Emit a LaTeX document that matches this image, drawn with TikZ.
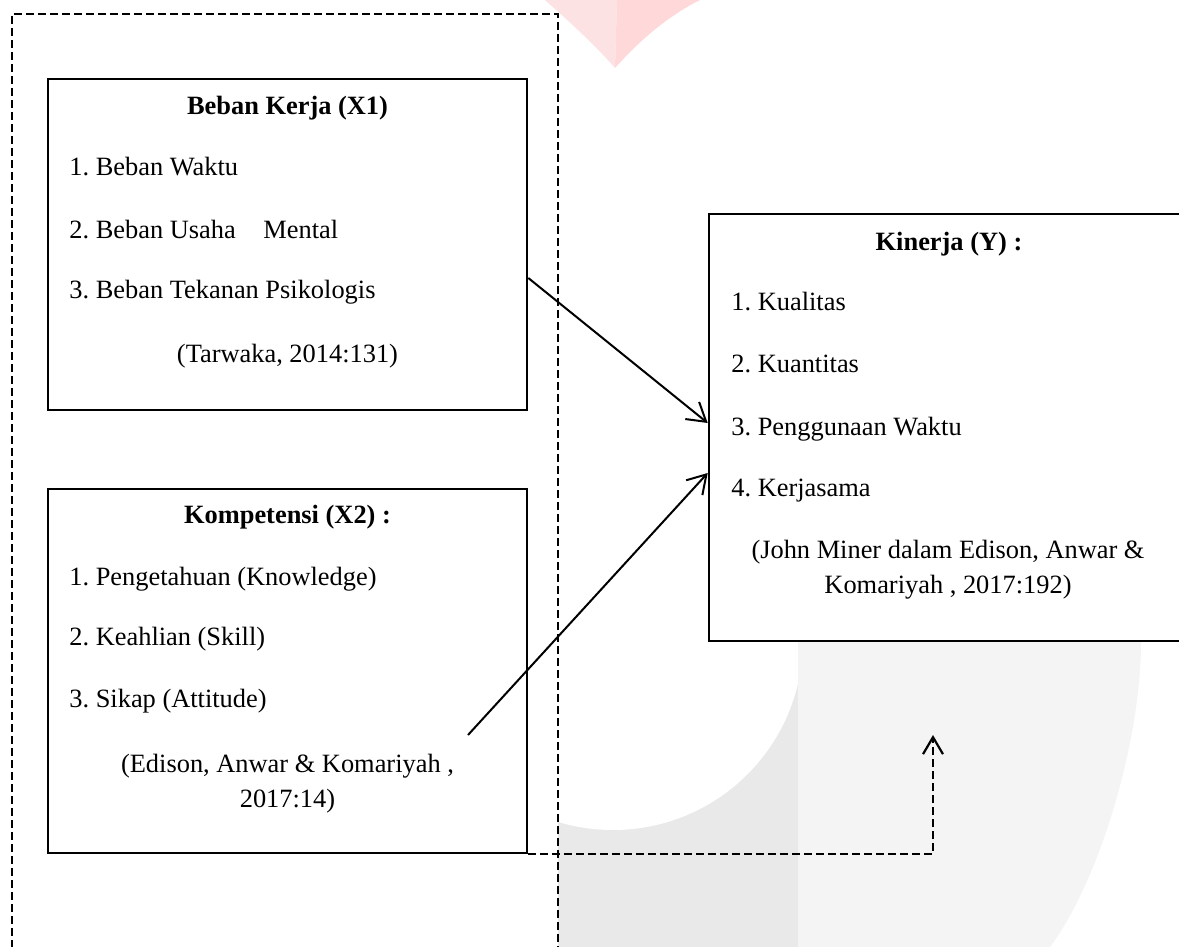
\documentclass[tikz,border=0pt]{standalone}
\usepackage{fontspec}
\setmainfont{Liberation Serif}
\usetikzlibrary{arrows.meta,calc}
\definecolor{pinkA}{RGB}{253,226,227}
\definecolor{pinkB}{RGB}{255,216,218}
\definecolor{greyA}{RGB}{233,233,233}
\definecolor{greyB}{RGB}{244,244,244}
\frenchspacing
\begin{document}
\begin{tikzpicture}[x=0.5pt,y=-0.5pt,
  box/.style={draw,line width=1.3pt,fill=white,inner sep=0pt},
  txt/.style={anchor=base west,inner sep=0pt,font=\fontsize{13.2}{16}\selectfont},
  ttl/.style={anchor=base,inner sep=0pt,font=\fontsize{13.2}{16}\selectfont\bfseries},
  cite/.style={anchor=base,inner sep=0pt,font=\fontsize{13.2}{16}\selectfont},
  arr/.style={line width=1pt,-{Straight Barb[length=9pt,width=11pt]}},
  darr/.style={line width=1.1pt,dash pattern=on 4pt off 2pt,-{Straight Barb[length=8.5pt,width=10pt]}},
  outerframe/.style={line width=1.1pt,dash pattern=on 4pt off 2pt}]
\useasboundingbox (0,0) rectangle (1179,947);
\clip (0,0) rectangle (1179,947);
\fill[white] (0,0) rectangle (1179,947);
% watermark
\fill[pinkA] (545,0) .. controls (572,24) and (596,46) .. (615,68) -- (617,0) -- cycle;
\fill[pinkB] (617,0) -- (615,68) .. controls (640,40) and (668,16) .. (700,0) -- cycle;
\fill[greyA] (558,600) rectangle (798,947);
\fill[white] (613,640) circle[radius=190];
\fill[greyB] (798,642) -- (1141,642) .. controls (1141,740) and (1100,880) .. (1050,947) -- (798,947) -- cycle;
% outer dashed frame
\draw[outerframe] (12,960) -- (12,14) -- (558,14) -- (558,960);
% boxes
\node[box,minimum width=239.5pt,minimum height=165.5pt] (x1) at (287.5,244.5) {};
\node[box,minimum width=239.5pt,minimum height=182pt] (x2) at (287.5,671) {};
\node[box,minimum width=240.5pt,minimum height=213.5pt] (y) at (949.5,427.5) {};
% X1 texts
\node[ttl] (x1t) at (287.5,115) {Beban Kerja (X1)};
\node[txt] (x1a) at (69,176) {1. Beban Waktu};
\node[txt] (x1b) at (69,238) {2. Beban Usaha\hspace{10.5pt} Mental};
\node[txt] (x1c) at (69,299) {3. Beban Tekanan Psikologis};
\node[cite] (x1r) at (287.5,362) {(Tarwaka, 2014:131)};
% X2 texts
\node[ttl] (x2t) at (287.5,523) {Kompetensi (X2) :};
\node[txt] (x2a) at (69,585) {1. Pengetahuan (Knowledge)};
\node[txt] (x2b) at (69,645) {2. Keahlian (Skill)};
\node[txt] (x2c) at (69,707) {3. Sikap (Attitude)};
\node[cite] (x2r) at (287.5,772) {(Edison, Anwar \& Komariyah ,};
\node[cite] (x2s) at (287.5,807) {2017:14)};
% Y texts
\node[ttl] (yt) at (949,250) {Kinerja (Y) :};
\node[txt] (ya) at (731,310) {1. Kualitas};
\node[txt] (yb) at (731,372) {2. Kuantitas};
\node[txt] (yc) at (731,435) {3. Penggunaan Waktu};
\node[txt] (yd) at (731,496) {4. Kerjasama};
\node[cite] (yr) at (948,558) {(John Miner dalam Edison, Anwar \&};
\node[cite] (ys) at (948,593) {Komariyah , 2017:192)};
% connectors
\coordinate (a2s) at (468,735);
\coordinate (dt) at (933,735);
\draw[arr] ($(x1.east)+(0,33.5)$) -- ($(y.west)+(0,-4.5)$);
\draw[arr] (a2s) -- ($(y.west)+(0,45.5)$);
\draw[darr] (x2.south east) -| (dt);
\end{tikzpicture}
\end{document}
